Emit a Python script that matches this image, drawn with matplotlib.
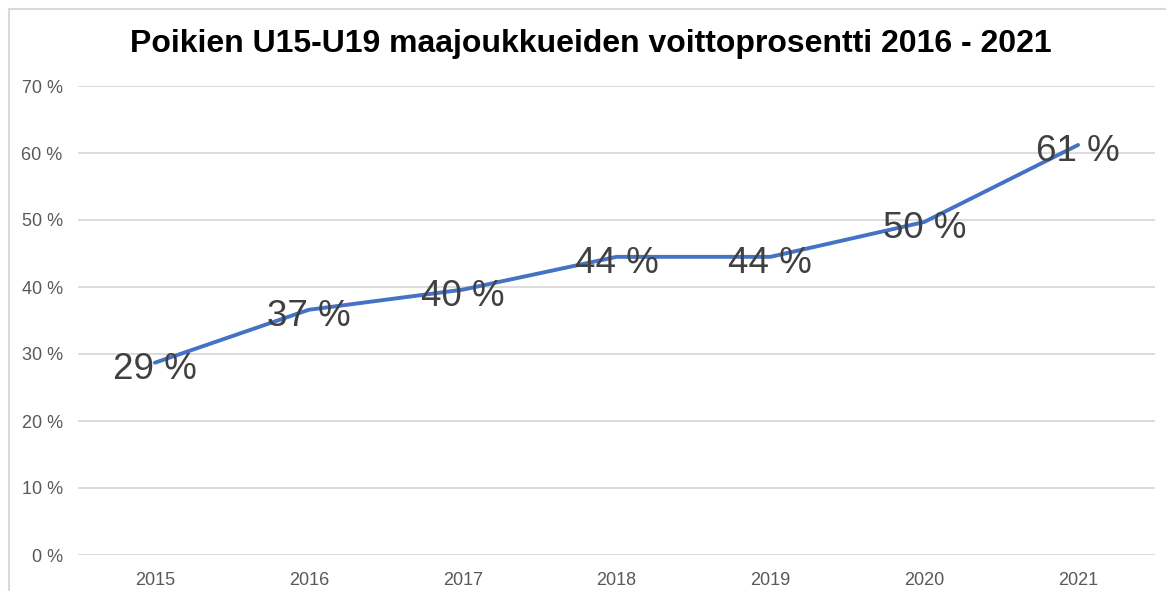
import matplotlib.pyplot as plt
from matplotlib.patches import Rectangle

years = ["2015", "2016", "2017", "2018", "2019", "2020", "2021"]
win_rate = [0.287, 0.366, 0.396, 0.445, 0.445, 0.497, 0.612]
y_ticks = [0, 0.1, 0.2, 0.3, 0.4, 0.5, 0.6, 0.7]
title = "Poikien U15-U19 maajoukkueiden voittoprosentti 2016 - 2021"

plt.rcParams['font.family'] = ['Liberation Sans', 'DejaVu Sans']

fig = plt.figure(figsize=(11.66, 5.91), dpi=100)
ax = fig.add_axes([78 / 1166, 1 - 555 / 591, (1155 - 78) / 1166, (555 - 86) / 591])

x = list(range(len(years)))
ax.plot(x, win_rate, color="#4472C4", lw=2.8, solid_capstyle="round", zorder=3)
for xi, v in zip(x, win_rate):
    ax.annotate(f"{v * 100:.0f} %", (xi, v), xytext=(0, -2), textcoords="offset points",
                ha="center", va="center_baseline",
                fontsize=26.5, color="#404040", zorder=4)

ax.set_xlim(-0.5, len(years) - 0.5)
ax.set_ylim(0, 0.7)
ax.set_xticks(x)
ax.set_xticklabels(years)
ax.set_yticks(y_ticks)
ax.set_yticklabels([f"{t * 100:.0f} %" for t in y_ticks])
ax.tick_params(axis="both", length=0, labelsize=13, labelcolor="#595959")
ax.tick_params(axis="y", pad=11)
ax.tick_params(axis="x", pad=12)
ax.grid(axis="y", color="#D9D9D9", lw=1.3)
ax.set_axisbelow(True)
for s in ax.spines.values():
    s.set_visible(False)

fig.text(591 / 1166, 1 - 44 / 591, title, ha="center", va="center",
         fontsize=23, fontweight="bold", color="black")

fig.patches.append(Rectangle((9 / 1166, -0.1), 1.2, 1 - 9 / 591 + 0.1,
                             transform=fig.transFigure, fill=False,
                             edgecolor="#D9D9D9", lw=1.5))

fig.savefig("out.png", dpi=100)
